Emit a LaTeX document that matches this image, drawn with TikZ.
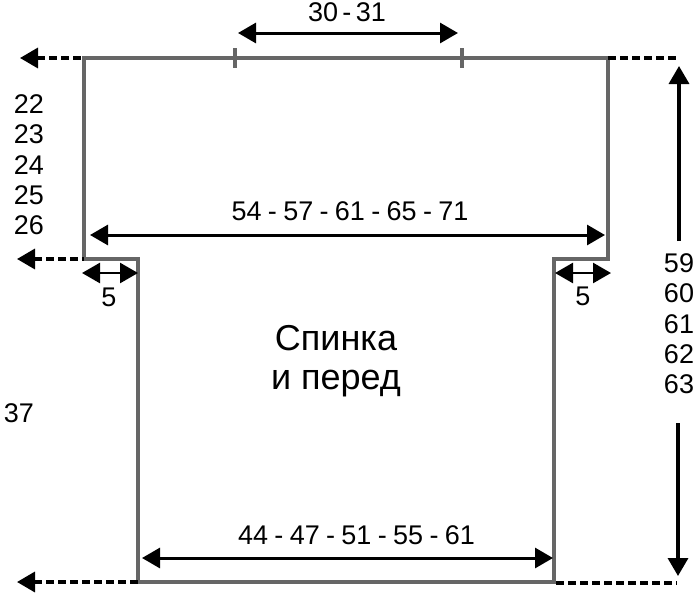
\documentclass[tikz,border=0pt]{standalone}
\usepackage{fontspec}
\setmainfont{Liberation Sans}
\usetikzlibrary{arrows.meta}
\newcommand{\dsh}{\hspace{0.16em}-\hspace{0.16em}}
\newcommand{\dsw}{\hspace{0.235em}-\hspace{0.235em}}
\tikzset{
  outline/.style={draw=black!60,line width=3.6pt,miter limit=10},
  tick/.style={draw=black!60,line width=3.2pt},
  dim/.style={draw=black,line width=3pt,{Triangle[length=18pt,width=20pt]}-{Triangle[length=18pt,width=20pt]}},
  dimsmall/.style={draw=black,line width=2.6pt,{Triangle[length=18pt,width=20pt]}-{Triangle[length=18pt,width=20pt]}},
  guide/.style={draw=black,line width=3.4pt,dash pattern=on 8pt off 4pt},
  guidearrow/.style={guide,{Triangle[length=18pt,width=20pt,sep=1pt]}-},
  vert/.style={draw=black,line width=3.4pt,-{Triangle[length=18pt,width=20pt]}},
  lbl/.style={inner sep=0pt,font=\fontsize{27}{30}\selectfont},
  stack/.style={inner sep=0pt,align=center,font=\fontsize{27}{30.3}\selectfont},
  title/.style={inner sep=0pt,align=center,font=\fontsize{36}{39}\selectfont}
}
\begin{document}
\begin{tikzpicture}[x=1pt,y=-1pt]
\useasboundingbox (0,0) rectangle (699,605);
\coordinate (tl) at (84,58);
\coordinate (tr) at (608,58);
\coordinate (ml) at (84,259);
\coordinate (mli) at (138,259);
\coordinate (bl) at (138,582);
\coordinate (br) at (554,582);
\coordinate (mri) at (554,259);
\coordinate (mr) at (608,259);
\draw[outline] (tl) -- (tr) -- (mr) -- (mri) -- (br) -- (bl) -- (mli) -- (ml) -- cycle;
% neck ticks
\coordinate (nla) at (235,48); \coordinate (nlb) at (235,68);
\coordinate (nra) at (462,48); \coordinate (nrb) at (462,68);
\draw[tick] (nla) -- (nlb);
\draw[tick] (nra) -- (nrb);
% horizontal dimensions
\coordinate (n1) at (238,33); \coordinate (n2) at (458,33);
\draw[dim] (n1) -- (n2);
\coordinate (w1) at (90,235); \coordinate (w2) at (605,235);
\draw[dim] (w1) -- (w2);
\coordinate (h1) at (142,558); \coordinate (h2) at (553,558);
\draw[dim] (h1) -- (h2);
\coordinate (s1) at (82,273); \coordinate (s2) at (138,273);
\draw[dimsmall] (s1) -- (s2);
\coordinate (s3) at (555,273); \coordinate (s4) at (611,273);
\draw[dimsmall] (s3) -- (s4);
% dashed guides
\coordinate (g1) at (19,58); \coordinate (g2) at (16,259); \coordinate (g3) at (16,582);
\draw[guidearrow] (g1) -- (tl);
\draw[guidearrow] (g2) -- (ml);
\draw[guidearrow] (g3) -- (bl);
\coordinate (g4) at (677,58); \coordinate (g5) at (677,583);
\coordinate (brs) at (556,583);
\draw[guide] (tr) -- (g4);
\draw[guide] (brs) -- (g5);
% vertical arrows
\coordinate (v1) at (679,241); \coordinate (v2) at (679,66);
\draw[vert] (v1) -- (v2);
\coordinate (v3) at (678,423); \coordinate (v4) at (678,576);
\draw[vert] (v3) -- (v4);
% labels
\node[lbl] (ln) at (347,12) {30\dsh 31};
\node[lbl] (lw) at (350,211) {54\dsw 57\dsw 61\dsw 65\dsw 71};
\node[lbl] (lh) at (356.5,535) {44\dsw 47\dsw 51\dsw 55\dsw 61};
\node[lbl] (l5a) at (109,297) {5};
\node[lbl] (l5b) at (583,296) {5};
\node[stack] (lsl) at (29,165) {22\\23\\24\\25\\26};
\node[lbl] (l37) at (19,413) {37};
\node[stack] (lsr) at (679,324) {59\\60\\61\\62\\63};
\node[title] (t) at (336,361) {Спинка\\и перед};
\end{tikzpicture}
\end{document}
